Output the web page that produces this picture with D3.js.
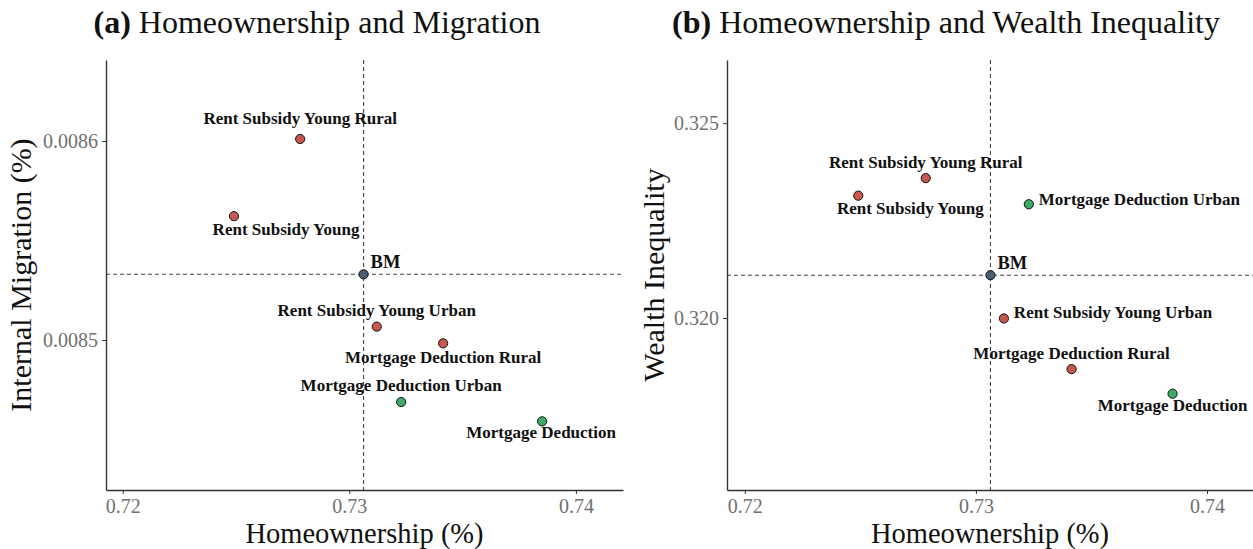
<!DOCTYPE html>
<html><head><meta charset="utf-8">
<script src="https://cdn.jsdelivr.net/npm/d3@7"></script>
<style>body{margin:0;background:#fff;} svg{display:block;}</style>
</head><body>
<svg id="c" width="1253" height="549"></svg>
<script>
// ---- data ----
const policies = ["BM","Rent Subsidy Young Rural","Rent Subsidy Young","Rent Subsidy Young Urban","Mortgage Deduction Rural","Mortgage Deduction Urban","Mortgage Deduction"];
const groups   = ["bm","rent","rent","rent","rent","mortgage","mortgage"];
const homeownership = [0.73063, 0.72783, 0.72491, 0.73121, 0.73414, 0.73229, 0.73851];
const migration     = [0.008533, 0.008601, 0.0085622, 0.0085067, 0.0084983, 0.0084688, 0.0084591];
const inequality    = [0.32110, 0.32359, 0.32314, 0.31999, 0.31869, 0.32292, 0.31806];
const xTicks = [0.72, 0.73, 0.74];
const yTicksA = [0.0085, 0.0086];
const yTicksB = [0.320, 0.325];
// label placement (dx, dy in px relative to point, anchor)
const labA = [[7,-6,"start"],[0,-15,"middle"],[52,19,"middle"],[0,-11,"middle"],[0,20,"middle"],[0,-11,"middle"],[-1,17,"middle"]];
const labB = [[7,-6,"start"],[0,-10,"middle"],[52,18,"middle"],[10,0,"start"],[0,-10,"middle"],[10,1,"start"],[0,17,"middle"]];

const colors = {bm:"#4b5e72", rent:"#c6584d", mortgage:"#3daa6a"};
const svg = d3.select("#c");
const data = policies.map((p,i)=>({name:p, g:groups[i], x:homeownership[i], m:migration[i], w:inequality[i]}));

function panel(opt){
  const {left,right,top,bottom,xDom,yDom,key,yTicks,yFmt,title,tcx,ylab,labs,ylabX} = opt;
  const x = d3.scaleLinear().domain(xDom).range([left,right]);
  const y = d3.scaleLinear().domain(yDom).range([bottom,top]);
  const g = svg.append("g");
  const bm = data[0];
  // reference lines
  g.append("line").attr("x1",x(bm.x)).attr("x2",x(bm.x)).attr("y1",top).attr("y2",bottom)
    .attr("stroke","#444").attr("stroke-width",1.1).attr("stroke-dasharray","4,3");
  g.append("line").attr("x1",left).attr("x2",right).attr("y1",y(bm[key])).attr("y2",y(bm[key]))
    .attr("stroke","#444").attr("stroke-width",1.1).attr("stroke-dasharray","4,3");
  // axes
  const xa = g.append("g").attr("transform",`translate(0,${bottom})`)
    .call(d3.axisBottom(x).tickValues(xTicks).tickFormat(d3.format(".2f")).tickSize(4).tickSizeOuter(0));
  const ya = g.append("g").attr("transform",`translate(${left},0)`)
    .call(d3.axisLeft(y).tickValues(yTicks).tickFormat(yFmt).tickSize(4).tickSizeOuter(0));
  [xa,ya].forEach(a=>{
    a.select(".domain").attr("stroke","#333").attr("stroke-width",1.4);
    a.selectAll(".tick line").attr("stroke","#333");
    a.selectAll(".tick text").attr("fill","#707070").attr("font-family","Liberation Serif").attr("font-size",20);
  });
  xa.selectAll(".tick text").attr("dy","0.8em");
  ya.selectAll(".tick text").attr("dx","-1px");
  // axis titles
  g.append("text").attr("x",(left+right)/2).attr("y",543).attr("text-anchor","middle")
    .attr("font-family","Liberation Serif").attr("font-size",28.5).attr("fill","#111").text("Homeownership (%)");
  g.append("text").attr("transform",`translate(${ylabX},${(top+bottom)/2}) rotate(-90)`).attr("text-anchor","middle")
    .attr("font-family","Liberation Serif").attr("font-size",30).attr("fill","#111").text(ylab);
  // title
  const t = g.append("text").attr("x",tcx).attr("y",33).attr("text-anchor","middle")
    .attr("font-family","Liberation Serif").attr("font-size",32).attr("fill","#111");
  t.append("tspan").attr("font-weight","bold").text(title[0]);
  t.append("tspan").text(" "+title[1]);
  // points
  g.selectAll("circle").data(data).join("circle")
    .attr("cx",d=>x(d.x)).attr("cy",d=>y(d[key])).attr("r",4.6)
    .attr("fill",d=>colors[d.g]).attr("stroke","#111").attr("stroke-width",1);
  // labels
  g.selectAll("text.lab").data(data).join("text").attr("class","lab")
    .attr("x",(d,i)=>x(d.x)+labs[i][0]).attr("y",(d,i)=>y(d[key])+labs[i][1])
    .attr("text-anchor",(d,i)=>labs[i][2])
    .attr("font-family","Liberation Serif").attr("font-weight","bold")
    .attr("font-size",(d,i)=>i===0?18.5:17).attr("fill","#111").text(d=>d.name);
}

panel({left:106,right:623,top:60,bottom:490,xDom:[0.71926,0.74208],yDom:[0.0084246,0.0086407],key:"m",
  yTicks:yTicksA,yFmt:d3.format(".4f"),title:["(a)","Homeownership and Migration"],tcx:317,
  ylab:"Internal Migration (%)",labs:labA,ylabX:31});
panel({left:727,right:1253,top:60,bottom:490,xDom:[0.71923,0.74199],yDom:[0.31559,0.32662],key:"w",
  yTicks:yTicksB,yFmt:d3.format(".3f"),title:["(b)","Homeownership and Wealth Inequality"],tcx:946,
  ylab:"Wealth Inequality",labs:labB,ylabX:664});
</script>
</body></html>
